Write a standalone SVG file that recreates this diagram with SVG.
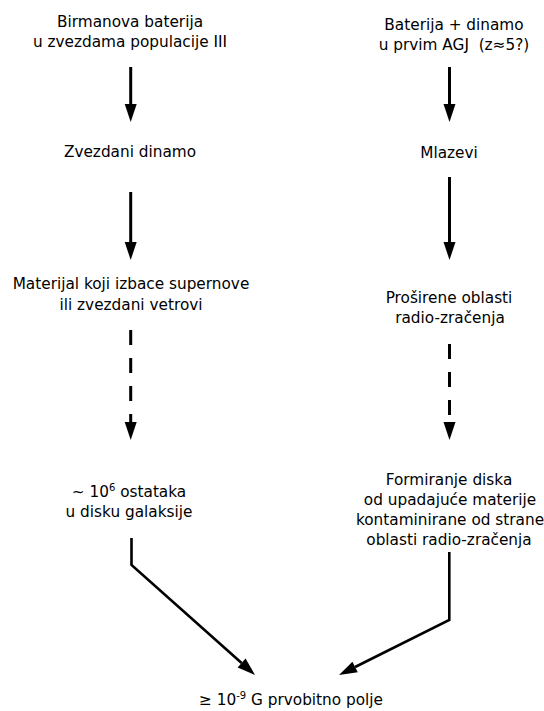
<svg xmlns="http://www.w3.org/2000/svg" width="544" height="711" viewBox="0 0 544 711">
<style>
  text { font-family: "DejaVu Sans", "Liberation Sans", sans-serif; font-size: 15.3px; fill: #000; text-anchor: middle; white-space: pre; }
  .sup { font-size: 10px; }
  .c { fill: none; stroke: #000; stroke-width: 3; }
  .d { stroke-dasharray: 15 13; }
  .b { stroke-width: 2.6; stroke-linejoin: miter; }
</style>
<defs>
  <marker id="ah" markerUnits="userSpaceOnUse" markerWidth="18" markerHeight="12" refX="0" refY="6" orient="auto" overflow="visible">
    <path d="M0,0 L18,6 L0,12 z" fill="#000"/>
  </marker>
</defs>
<rect width="544" height="711" fill="#fff"/>

<g id="n-birman">
  <text x="130" y="27">Birmanova baterija</text>
  <text x="130" y="47">u zvezdama populacije III</text>
</g>
<g id="n-zvezdani-dinamo">
  <text x="130" y="157">Zvezdani dinamo</text>
</g>
<g id="n-materijal">
  <text x="131" y="289">Materijal koji izbace supernove</text>
  <text x="131" y="310">ili zvezdani vetrovi</text>
</g>
<g id="n-ostaci">
  <text x="129" y="497">~ 10<tspan class="sup" dy="-6">6</tspan><tspan dy="6"> ostataka</tspan></text>
  <text x="129" y="517">u disku galaksije</text>
</g>

<g id="n-baterija-agj">
  <text x="454" y="30">Baterija + dinamo</text>
  <text x="454" y="50">u prvim AGJ  (z≈5?)</text>
</g>
<g id="n-mlazevi">
  <text x="449" y="158">Mlazevi</text>
</g>
<g id="n-prosirene">
  <text x="449" y="303">Proširene oblasti</text>
  <text x="450" y="323">radio-zračenja</text>
</g>
<g id="n-formiranje">
  <text x="449" y="485">Formiranje diska</text>
  <text x="450" y="505">od upadajuće materije</text>
  <text x="450" y="525">kontaminirane od strane</text>
  <text x="449" y="545">oblasti radio-zračenja</text>
</g>

<g id="n-polje">
  <text x="291" y="705">≥ 10<tspan class="sup" dy="-6">-9</tspan><tspan dy="6"> G prvobitno polje</tspan></text>
</g>

<g id="connectors">
  <path class="c" d="M130.7,67 V104" marker-end="url(#ah)"/>
  <path class="c" d="M130.7,192 V242" marker-end="url(#ah)"/>
  <path class="c d" d="M130.7,330 V422" marker-end="url(#ah)"/>
  <path class="c b" d="M131.5,538 V565 L241.6,663" marker-end="url(#ah)"/>

  <path class="c" d="M449.5,67 V104" marker-end="url(#ah)"/>
  <path class="c" d="M449.5,177 V242" marker-end="url(#ah)"/>
  <path class="c d" d="M449.5,344 V422" marker-end="url(#ah)"/>
  <path class="c b" d="M449.3,552 V620 L355.1,667" marker-end="url(#ah)"/>
</g>
</svg>
